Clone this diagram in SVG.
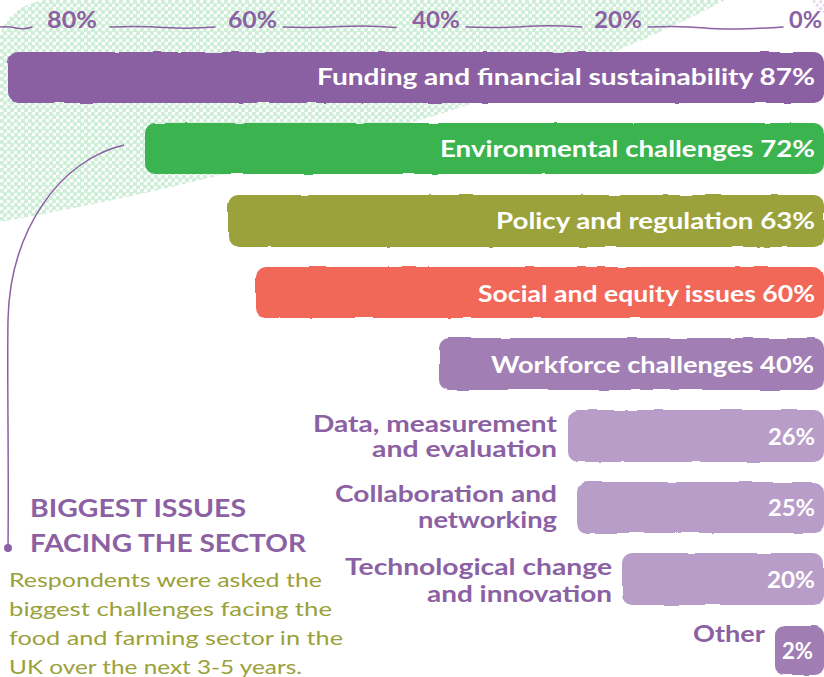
<svg xmlns="http://www.w3.org/2000/svg" width="824" height="677" viewBox="0 0 824 677">
<style>
.lbl{font-family:Lato,"Open Sans","DejaVu Sans",sans-serif;font-weight:700;font-size:22px;fill:#ffffff;text-anchor:end}
.dark{font-family:Lato,"Open Sans","DejaVu Sans",sans-serif;font-weight:700;font-size:22px;fill:#8B61A3;text-anchor:end}
.axis{font-family:Lato,"Open Sans","DejaVu Sans",sans-serif;font-weight:700;font-size:22px;fill:#8B61A3}
.title{font-family:Lato,"Open Sans","DejaVu Sans",sans-serif;font-weight:700;font-size:25px;fill:#8B61A3}
.para{font-family:Lato,"Open Sans","DejaVu Sans",sans-serif;font-weight:400;font-size:20px;fill:#9BA13A}
.tick{fill:none;stroke:#8B61A3;stroke-width:1.5;stroke-linecap:round}
.bar{filter:url(#rough)}
</style>
<defs>
<pattern id="dots" width="7" height="7" patternUnits="userSpaceOnUse">
<circle cx="1.75" cy="1.75" r="2.4" fill="#CFEED7"/>
<circle cx="5.25" cy="5.25" r="2.4" fill="#CFEED7"/>
</pattern>
<pattern id="ldots" width="7" height="7" patternUnits="userSpaceOnUse">
<circle cx="1.75" cy="1.75" r="1.8" fill="#E6DDEE"/>
<circle cx="5.25" cy="5.25" r="1.8" fill="#E6DDEE"/>
</pattern>
<filter id="rough" x="-2%" y="-10%" width="104%" height="120%">
<feTurbulence type="fractalNoise" baseFrequency="0.04" numOctaves="2" seed="3"/>
<feDisplacementMap in="SourceGraphic" scale="3" xChannelSelector="R" yChannelSelector="G"/>
</filter>
</defs>

<g id="background">
<path d="M45,0 L725,0 C560,90 240,180 0,222 L0,35 Q8,6 45,0 Z" fill="url(#dots)"/>
<circle cx="830" cy="-4" r="18" fill="url(#ldots)"/>
</g>

<g id="axis">
<path class="tick" d="M0,27 Q8,26 16,28 T32,27"/>
<path class="tick" d="M110,27 Q140,26 165,27.5 T215,27"/>
<path class="tick" d="M283,27 Q310,28 340,26.5 T396,27.5"/>
<path class="tick" d="M466,27 Q500,28 525,26.5 T582,27"/>
<path class="tick" d="M648,27 Q680,25.5 705,28 T783,27"/>
<text class="axis" x="47" y="28" textLength="50" lengthAdjust="spacingAndGlyphs">80%</text>
<text class="axis" x="228" y="28" textLength="49" lengthAdjust="spacingAndGlyphs">60%</text>
<text class="axis" x="412" y="28" textLength="48" lengthAdjust="spacingAndGlyphs">40%</text>
<text class="axis" x="594" y="28" textLength="48" lengthAdjust="spacingAndGlyphs">20%</text>
<text class="axis" x="789" y="28" textLength="33" lengthAdjust="spacingAndGlyphs">0%</text>
</g>

<g id="bar-funding">
<rect class="bar" x="8" y="52" width="816" height="51" rx="10" fill="#8B61A3"/>
<text class="lbl" x="815" y="85" textLength="498" lengthAdjust="spacingAndGlyphs">Funding and financial sustainability 87%</text>
</g>
<g id="bar-environmental">
<rect class="bar" x="145" y="123" width="679" height="51" rx="10" fill="#3BB34F"/>
<text class="lbl" x="815" y="157" textLength="375" lengthAdjust="spacingAndGlyphs">Environmental challenges 72%</text>
</g>
<g id="bar-policy">
<rect class="bar" x="228" y="195" width="596" height="52" rx="10" fill="#9BA13A"/>
<text class="lbl" x="815" y="229" textLength="319" lengthAdjust="spacingAndGlyphs">Policy and regulation 63%</text>
</g>
<g id="bar-social">
<rect class="bar" x="256" y="267" width="568" height="51" rx="10" fill="#F26759"/>
<text class="lbl" x="815" y="302" textLength="337" lengthAdjust="spacingAndGlyphs">Social and equity issues 60%</text>
</g>
<g id="bar-workforce">
<rect class="bar" x="439" y="338" width="385" height="52" rx="10" fill="#A17FB4"/>
<text class="lbl" x="814" y="373" textLength="323" lengthAdjust="spacingAndGlyphs">Workforce challenges 40%</text>
</g>
<g id="bar-data">
<rect class="bar" x="568" y="410" width="256" height="52" rx="10" fill="#B89DC8"/>
<text class="lbl" x="815" y="445" textLength="47" lengthAdjust="spacingAndGlyphs">26%</text>
<text class="dark" x="557" y="432" textLength="244" lengthAdjust="spacingAndGlyphs">Data, measurement</text>
<text class="dark" x="557" y="457" textLength="185" lengthAdjust="spacingAndGlyphs">and evaluation</text>
</g>
<g id="bar-collaboration">
<rect class="bar" x="577" y="482" width="247" height="51" rx="10" fill="#B89DC8"/>
<text class="lbl" x="815" y="516" textLength="47" lengthAdjust="spacingAndGlyphs">25%</text>
<text class="dark" x="557" y="502" textLength="222" lengthAdjust="spacingAndGlyphs">Collaboration and</text>
<text class="dark" x="557" y="528" textLength="139" lengthAdjust="spacingAndGlyphs">networking</text>
</g>
<g id="bar-technological">
<rect class="bar" x="622" y="553" width="202" height="52" rx="10" fill="#B89DC8"/>
<text class="lbl" x="815" y="588" textLength="48" lengthAdjust="spacingAndGlyphs">20%</text>
<text class="dark" x="612" y="575" textLength="267" lengthAdjust="spacingAndGlyphs">Technological change</text>
<text class="dark" x="612" y="602" textLength="185" lengthAdjust="spacingAndGlyphs">and innovation</text>
</g>
<g id="bar-other">
<rect class="bar" x="775" y="626" width="49" height="49" rx="9" fill="#A07EB4"/>
<text class="lbl" x="813" y="659" textLength="31" lengthAdjust="spacingAndGlyphs">2%</text>
<text class="dark" x="765" y="642" textLength="72" lengthAdjust="spacingAndGlyphs">Other</text>
</g>

<g id="connectors">
<path d="M124,145 C60,160 10,230 8,320 C7,380 9,460 8,548" fill="none" stroke="#8B61A3" stroke-width="1.5"/>
<circle cx="8" cy="548" r="4" fill="#8B61A3"/>
</g>

<g id="caption">
<text class="title" x="30" y="517" textLength="216" lengthAdjust="spacingAndGlyphs">BIGGEST ISSUES</text>
<text class="title" x="30" y="552" textLength="276" lengthAdjust="spacingAndGlyphs">FACING THE SECTOR</text>
<text class="para" x="9" y="587" textLength="313" lengthAdjust="spacingAndGlyphs">Respondents were asked the</text>
<text class="para" x="9" y="616" textLength="323" lengthAdjust="spacingAndGlyphs">biggest challenges facing the</text>
<text class="para" x="9" y="645" textLength="334" lengthAdjust="spacingAndGlyphs">food and farming sector in the</text>
<text class="para" x="9" y="674" textLength="293" lengthAdjust="spacingAndGlyphs">UK over the next 3-5 years.</text>
</g>
</svg>
